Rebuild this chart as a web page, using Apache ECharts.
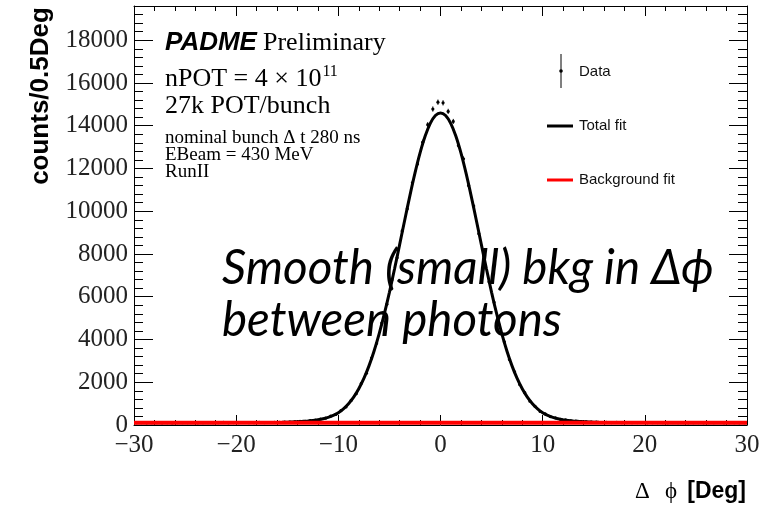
<!DOCTYPE html>
<html>
<head>
<meta charset="utf-8">
<script src="https://cdn.jsdelivr.net/npm/echarts@6/dist/echarts.min.js"></script>
<style>
html,body{margin:0;padding:0;background:#fff;}
#c{width:777px;height:506px;}
</style>
</head>
<body>
<div id="c"></div>
<script>
// ---- data ----
const phiCenters = [
-29.75,-29.25,-28.75,-28.25,-27.75,-27.25,-26.75,-26.25,-25.75,-25.25,
-24.75,-24.25,-23.75,-23.25,-22.75,-22.25,-21.75,-21.25,-20.75,-20.25,
-19.75,-19.25,-18.75,-18.25,-17.75,-17.25,-16.75,-16.25,-15.75,-15.25,
-14.75,-14.25,-13.75,-13.25,-12.75,-12.25,-11.75,-11.25,-10.75,-10.25,
-9.75,-9.25,-8.75,-8.25,-7.75,-7.25,-6.75,-6.25,-5.75,-5.25,
-4.75,-4.25,-3.75,-3.25,-2.75,-2.25,-1.75,-1.25,-0.75,-0.25,
0.25,0.75,1.25,1.75,2.25,2.75,3.25,3.75,4.25,4.75,
5.25,5.75,6.25,6.75,7.25,7.75,8.25,8.75,9.25,9.75,
10.25,10.75,11.25,11.75,12.25,12.75,13.25,13.75,14.25,14.75,
15.25,15.75,16.25,16.75,17.25,17.75,18.25,18.75,19.25,19.75,
20.25,20.75,21.25,21.75,22.25,22.75,23.25,23.75,24.25,24.75,
25.25,25.75,26.25,26.75,27.25,27.75,28.25,28.75,29.25,29.75
];
const dataCounts = [
106,112,101,109,115,104,110,98,113,107,
111,116,103,109,114,106,110,119,104,112,
108,117,111,105,121,113,118,125,119,134,
141,152,169,176,211,228,281,318,416,497,
668,842,1151,1463,1948,2421,3135,3821,4770,5652,
6790,7820,9080,10110,11330,12210,13230,14050,14780,15100,
15070,14670,14200,13080,12450,11200,10240,8950,7930,6700,
5740,4680,3890,3060,2490,1890,1510,1110,878,631,
521,392,337,263,241,195,184,158,151,133,
131,117,122,114,119,109,115,106,112,118,
103,110,114,107,101,112,108,115,104,109,
113,100,111,106,117,103,110,108,102,111
];
const fitPhi = [
-30,-25,-20,-17,-16,-15.5,-15,-14.5,-14,-13.5,-13,-12.5,-12,-11.5,-11,-10.5,-10,-9.5,-9,-8.5,
-8,-7.5,-7,-6.5,-6,-5.5,-5,-4.5,-4,-3.5,-3,-2.5,-2,-1.5,-1,-0.5,0,
0.5,1,1.5,2,2.5,3,3.5,4,4.5,5,5.5,6,6.5,7,7.5,8,
8.5,9,9.5,10,10.5,11,11.5,12,12.5,13,13.5,14,14.5,15,15.5,16,17,20,25,30
];
const fitTotal = [
108,110,112,115,120,125,132,142,155,170,190,215,250,295,360,450,576,755,993,1300,
1692,2177,2766,3465,4276,5194,6207,7297,8437,9591,10720,11780,12726,13514,14107,14475,14600,
14475,14107,13514,12726,11780,10720,9591,8437,7297,6207,5194,4276,3465,2766,2177,1692,
1300,993,755,576,450,360,295,250,215,190,170,155,142,132,125,120,115,112,110,108
];
const bkgPhi = [-30,-20,-10,0,10,20,30];
const bkgFit = [104,108,110,111,110,108,104];
const xTicks = [-30,-20,-10,0,10,20,30];
const yTicks = [0,2000,4000,6000,8000,10000,12000,14000,16000,18000];

// ---- chart ----
const chart = echarts.init(document.getElementById('c'), null, {renderer:'canvas'});
const dataPts = phiCenters.map((x,i)=>[x, dataCounts[i]]);
const fitPts = fitPhi.map((x,i)=>[x, fitTotal[i]]);
const bkgPts = bkgPhi.map((x,i)=>[x, bkgFit[i]]);

const serif = '"Liberation Serif","Times New Roman",serif';
const sans = '"Liberation Sans",Arial,sans-serif';
const AX = '#000';

function xAx(pos, interval, len, labels, line){
  return {
    type:'value', position:pos, min:-30, max:30, interval:interval,
    axisLine:{show:line, onZero:false, lineStyle:{color:AX,width:1}},
    axisTick:{show:true, inside:true, length:len, lineStyle:{color:AX,width:1}},
    axisLabel:{show:labels, margin:8, fontFamily:serif, fontSize:25, color:'#222',
      formatter:(v)=> xTicks.indexOf(v)>=0 ? String(v).replace('-','\u2212') : ''},
    splitLine:{show:false}
  };
}
function yAx(pos, interval, len, labels, line){
  return {
    type:'value', position:pos, min:0, max:19600, interval:interval,
    axisLine:{show:line, onZero:false, lineStyle:{color:AX,width:1}},
    axisTick:{show:true, inside:true, length:len, lineStyle:{color:AX,width:1}},
    axisLabel:{show:labels, margin:6, fontFamily:serif, fontSize:25, color:'#222',
      padding:[6,0,0,0],
      formatter:(v)=> yTicks.indexOf(v)>=0 ? String(v) : ''},
    splitLine:{show:false}
  };
}

// measure for superscript placement
const mc = document.createElement('canvas').getContext('2d');
mc.font = '26px ' + serif;
const npotW = mc.measureText('nPOT = 4 \u00d7 10').width;

function txt(x, y, text, font, opts){
  opts = opts || {};
  return {
    type:'text', x:x, y:y, rotation: opts.rotation || 0, z:100,
    style:{text:text, x:0, y:0, font:font, fill: opts.fill || '#000',
      align: opts.align || 'left', verticalAlign:'middle',
      textAlign: opts.align || 'left', textVerticalAlign:'middle'}
  };
}

const option = {
  animation:false,
  backgroundColor:'#fff',
  grid:{left:134, right:30, top:6, bottom:81, containLabel:false},
  xAxis:[ xAx('bottom',10,10,true,true), xAx('bottom',2,5,false,false),
          xAx('top',10,10,false,true), xAx('top',2,5,false,false) ],
  yAxis:[ yAx('left',2000,19,true,true), yAx('left',400,9,false,false),
          yAx('right',2000,18,false,true), yAx('right',400,9,false,false) ],
  series:[
    {
      type:'custom', xAxisIndex:0, yAxisIndex:0, z:2,
      data:dataPts, clip:true,
      renderItem:function(params, api){
        const x = api.value(0), y = api.value(1);
        const e = Math.sqrt(y);
        const p0 = api.coord([x, y - e]);
        const p1 = api.coord([x, y + e]);
        const pc = api.coord([x, y]);
        return {type:'group', children:[
          {type:'line', shape:{x1:p0[0],y1:p0[1],x2:p1[0],y2:p1[1]}, style:{stroke:'#000', lineWidth:1}},
          {type:'circle', shape:{cx:pc[0], cy:pc[1], r:1.6}, style:{fill:'#000'}}
        ]};
      }
    },
    {
      type:'line', name:'Total fit', xAxisIndex:0, yAxisIndex:0, z:3,
      data:fitPts, showSymbol:false, smooth:0.3, clip:true,
      lineStyle:{color:'#000', width:3}
    },
    {
      type:'line', name:'Background fit', xAxisIndex:0, yAxisIndex:0, z:4,
      data:bkgPts, showSymbol:false, smooth:true, clip:true,
      lineStyle:{color:'#ff0000', width:4}
    }
  ],
  graphic:[
    // y axis title
    txt(41, 96, 'counts/0.5Deg', 'bold 26px ' + sans, {align:'center', rotation:Math.PI/2}),
    // x axis title
    txt(635, 492, '\u0394', '23px ' + serif),
    txt(665, 492, '\u03d5', '23px ' + serif),
    txt(746, 492, '[Deg]', 'bold 23px ' + sans, {align:'right'}),
    // PADME block
    txt(165, 43, 'PADME', 'italic bold 26px ' + sans),
    txt(263, 43, 'Preliminary', '26px ' + serif),
    txt(165, 79, 'nPOT = 4 \u00d7 10', '26px ' + serif),
    txt(165 + npotW + 1, 72, '11', '16px ' + serif),
    txt(165, 106, '27k POT/bunch', '26px ' + serif),
    txt(165, 138, 'nominal bunch \u0394 t 280 ns', '19px ' + serif),
    txt(165, 155, 'EBeam = 430 MeV', '19px ' + serif),
    txt(165, 172, 'RunII', '19px ' + serif),
    // legend
    {type:'line', z:100, shape:{x1:561,y1:54,x2:561,y2:88}, style:{stroke:'#000', lineWidth:1}},
    {type:'circle', z:100, shape:{cx:561, cy:71, r:1.8}, style:{fill:'#000'}},
    txt(579, 72, 'Data', '15px ' + sans, {fill:'#111'}),
    {type:'line', z:100, shape:{x1:547,y1:126,x2:573,y2:126}, style:{stroke:'#000', lineWidth:3}},
    txt(579, 126, 'Total fit', '15px ' + sans, {fill:'#111'}),
    {type:'line', z:100, shape:{x1:547,y1:180,x2:573,y2:180}, style:{stroke:'#ff0000', lineWidth:3}},
    txt(579, 180, 'Background fit', '15px ' + sans, {fill:'#111'}),
    // overlay annotation
    txt(222, 269, 'Smooth (small) bkg in \u0394\u03d5', 'italic 47.5px Lato, "Open Sans", sans-serif'),
    txt(222, 321, 'between photons', 'italic 47.5px Lato, "Open Sans", sans-serif')
  ]
};
chart.setOption(option);
</script>
</body>
</html>
